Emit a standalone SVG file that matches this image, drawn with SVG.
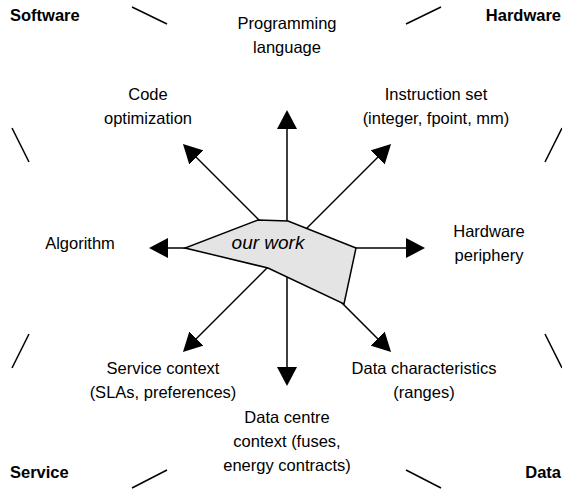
<svg xmlns="http://www.w3.org/2000/svg" width="562" height="489" viewBox="0 0 562 489">
  <style>
    .lbl { font-family: "Liberation Sans", Arial, sans-serif; font-size: 16.5px; fill: #000; text-anchor: middle; }
    .corner { font-family: "Liberation Sans", Arial, sans-serif; font-size: 16.5px; font-weight: bold; fill: #000; }
    .deco { stroke: #000; stroke-width: 1.5; fill: none; }
    .arrow { stroke: #000; stroke-width: 1.5; fill: none; marker-end: url(#head); }
    .work { fill: #e4e4e4; stroke: #000; stroke-width: 1.5; stroke-linejoin: miter; }
    .worktxt { font-family: "Liberation Sans", Arial, sans-serif; font-size: 19px; font-style: italic; fill: #000; text-anchor: middle; }
  </style>
  <defs>
    <marker id="head" markerUnits="userSpaceOnUse" markerWidth="20" markerHeight="20" refX="9" refY="10" orient="auto" viewBox="0 0 20 20">
      <path d="M0,0 L19,10 L0,20 z" fill="#000"/>
    </marker>
  </defs>
  <rect width="562" height="489" fill="#fff"/>

  <g id="corner-decorations">
    <text class="corner" x="10" y="21">Software</text>
    <text class="corner" x="561" y="21" text-anchor="end">Hardware</text>
    <text class="corner" x="10" y="478">Service</text>
    <text class="corner" x="561" y="478" text-anchor="end">Data</text>
    <line class="deco" x1="132" y1="7" x2="167" y2="24"/>
    <line class="deco" x1="406" y1="24" x2="441" y2="7"/>
    <line class="deco" x1="12" y1="128" x2="29" y2="162"/>
    <line class="deco" x1="562" y1="128" x2="545" y2="162"/>
    <line class="deco" x1="29" y1="334" x2="12" y2="368"/>
    <line class="deco" x1="545" y1="334" x2="562" y2="368"/>
    <line class="deco" x1="132" y1="488" x2="167" y2="470"/>
    <line class="deco" x1="406" y1="470" x2="441" y2="488"/>
  </g>

  <g id="connectors">
    <line class="arrow" x1="287" y1="248" x2="287" y2="120"/>
    <line class="arrow" x1="287" y1="248" x2="287" y2="376"/>
    <line class="arrow" x1="287" y1="248" x2="159" y2="248"/>
    <line class="arrow" x1="287" y1="248" x2="415" y2="248"/>
    <line class="arrow" x1="287" y1="248" x2="190" y2="151"/>
    <line class="arrow" x1="287" y1="248" x2="384" y2="151"/>
    <line class="arrow" x1="287" y1="248" x2="190" y2="345"/>
    <line class="arrow" x1="287" y1="248" x2="384" y2="345"/>
  </g>

  <g id="our-work">
    <polygon class="work" points="258,220 288,221 356,248 344,304 268,268 185,248"/>
    <text class="worktxt" x="268" y="249">our work</text>
  </g>

  <g id="programming-language">
    <text class="lbl" x="287" y="29">Programming</text>
    <text class="lbl" x="287" y="53">language</text>
  </g>
  <g id="code-optimization">
    <text class="lbl" x="148" y="100">Code</text>
    <text class="lbl" x="148" y="124">optimization</text>
  </g>
  <g id="instruction-set">
    <text class="lbl" x="436" y="100">Instruction set</text>
    <text class="lbl" x="436" y="124">(integer, fpoint, mm)</text>
  </g>
  <g id="algorithm">
    <text class="lbl" x="80" y="249">Algorithm</text>
  </g>
  <g id="hardware-periphery">
    <text class="lbl" x="489" y="237">Hardware</text>
    <text class="lbl" x="489" y="261">periphery</text>
  </g>
  <g id="service-context">
    <text class="lbl" x="163" y="374">Service context</text>
    <text class="lbl" x="163" y="398">(SLAs, preferences)</text>
  </g>
  <g id="data-characteristics">
    <text class="lbl" x="424" y="374">Data characteristics</text>
    <text class="lbl" x="424" y="398">(ranges)</text>
  </g>
  <g id="data-centre-context">
    <text class="lbl" x="287" y="423">Data centre</text>
    <text class="lbl" x="287" y="447">context (fuses,</text>
    <text class="lbl" x="287" y="471">energy contracts)</text>
  </g>
</svg>
